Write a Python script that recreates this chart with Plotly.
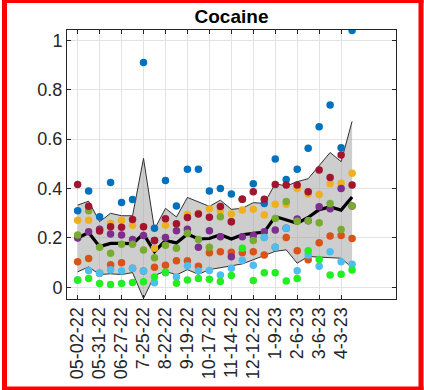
import plotly.graph_objects as go

# ---- data ----
sample_index = list(range(26))
tick_index = [0, 2, 4, 6, 8, 10, 12, 14, 16, 18, 20, 22, 24]
tick_labels = ['05-02-22', '05-31-22', '06-27-22', '7-25-22', '8-22-22', '9-19-22',
               '10-17-22', '11-14-22', '12-12-22', '1-9-23', '2-6-23', '3-6-23', '4-3-23']
y_ticks = [0, 0.2, 0.4, 0.6, 0.8, 1.0]
y_tick_labels = ['0', '0.2', '0.4', '0.6', '0.8', '1']

site_blue = [0.31, 0.39, 0.286, 0.425, 0.344, 0.356, 0.91, 0.239, 0.433, 0.329, 0.478, 0.478, 0.39,
             0.40, 0.378, 0.357, 0.42, 0.34, 0.52, 0.437, 0.478, 0.563, 0.65, 0.738, 0.565, 1.04]
site_orange = [0.104, 0.117, 0.057, 0.092, 0.10, 0.077, 0.066, 0.082, 0.09, 0.108, 0.108, 0.086, 0.14,
               0.144, 0.142, 0.14, 0.144, 0.131, 0.162, 0.202, 0.148, 0.112, 0.181, 0.208, 0.21, 0.198]
site_yellow = [0.272, 0.272, 0.235, 0.259, 0.272, 0.252, 0.245, 0.158, 0.252, 0.256, 0.295, 0.30, 0.318,
               0.31, 0.297, 0.313, 0.316, 0.293, 0.337, 0.337, 0.40, 0.378, 0.376, 0.42, 0.422, 0.462]
site_purple = [0.20, 0.225, 0.235, 0.216, 0.212, 0.194, 0.21, 0.19, 0.202, 0.229, 0.235, 0.162, 0.229,
               0.205, 0.124, 0.205, 0.21, 0.225, 0.232, 0.239, 0.277, 0.27, 0.326, 0.318, 0.40, 0.329]
site_green = [0.212, 0.31, 0.162, 0.138, 0.175, 0.175, 0.151, 0.12, 0.171, 0.158, 0.219, 0.194, 0.162,
              0.286, 0.266, 0.357, 0.19, 0.202, 0.279, 0.348, 0.268, 0.27, 0.262, 0.34, 0.234, 0.329]
site_lightblue = [0.03, 0.067, 0.057, 0.071, 0.066, 0.077, 0.066, 0.019, 0.059, 0.042, 0.088, 0.066, 0.068,
                  0.05, 0.077, 0.11, 0.09, 0.202, 0.162, 0.239, 0.067, 0.131, 0.086, 0.144, 0.104, 0.094]
site_darkred = [0.417, 0.328, 0.228, 0.245, 0.243, 0.275, 0.245, 0.19, 0.278, 0.258, 0.283, 0.297, 0.284,
                0.327, 0.266, 0.357, 0.387, 0.357, 0.417, 0.415, 0.415, 0.387, 0.475, 0.445, 0.536, 0.415]
site_brightgreen = [0.03, 0.036, 0.016, 0.012, 0.016, 0.02, 0.023, 0.042, 0.061, 0.017, 0.03, 0.036, 0.033,
                    0.024, 0.048, 0.158, 0.028, 0.059, 0.059, 0.026, 0.036, 0.148, 0.113, 0.05, 0.053, 0.07]

band_upper = [0.333, 0.349, 0.266, 0.3, 0.29, 0.29, 0.522, 0.235, 0.32, 0.285, 0.364, 0.347, 0.328,
              0.353, 0.316, 0.32, 0.343, 0.34, 0.42, 0.41, 0.428, 0.44, 0.495, 0.546, 0.509, 0.672]
band_lower = [0.063, 0.083, 0.052, 0.055, 0.052, 0.06, -0.045, 0.048, 0.066, 0.05, 0.072, 0.053, 0.072,
              0.08, 0.085, 0.095, 0.112, 0.13, 0.146, 0.152, 0.098, 0.125, 0.122, 0.122, 0.118, 0.08]
band_middle = [0.2, 0.222, 0.165, 0.178, 0.178, 0.177, 0.216, 0.145, 0.19, 0.18, 0.216, 0.196, 0.198,
               0.213, 0.196, 0.213, 0.219, 0.224, 0.287, 0.272, 0.26, 0.283, 0.315, 0.326, 0.313, 0.366]

series = [
    (site_blue, '#0072BD'),
    (site_orange, '#D95319'),
    (site_yellow, '#EDB120'),
    (site_purple, '#7E2F8E'),
    (site_green, '#77AC30'),
    (site_lightblue, '#4DBEEE'),
    (site_darkred, '#A2142F'),
    (site_brightgreen, '#22EE22'),
]

fig = go.Figure()

fig.add_trace(go.Scatter(x=sample_index, y=band_lower, mode='lines',
                         line=dict(color='#303030', width=1), showlegend=False))
fig.add_trace(go.Scatter(x=sample_index, y=band_upper, mode='lines',
                         line=dict(color='#303030', width=1), fill='tonexty',
                         fillcolor='rgba(165,165,165,0.55)', showlegend=False))
fig.add_trace(go.Scatter(x=sample_index, y=band_middle, mode='lines',
                         line=dict(color='black', width=3.2), showlegend=False))

for vals, col in series:
    fig.add_trace(go.Scatter(x=sample_index, y=vals, mode='markers',
                             marker=dict(color=col, size=7.5, line=dict(width=0)),
                             showlegend=False))

axis_col = '#262626'
font_fam = 'Liberation Sans, Arial, sans-serif'

fig.update_layout(
    width=424, height=390,
    margin=dict(l=67, r=28, t=30, b=91, autoexpand=False),
    paper_bgcolor='white', plot_bgcolor='white',
    font=dict(family=font_fam, color=axis_col, size=18),
    title=dict(text='<b>Cocaine</b>', x=0.5, xref='paper', xanchor='center',
               y=0.958, yref='container', yanchor='middle',
               font=dict(family=font_fam, size=19, color='black')),
    xaxis=dict(range=[-0.97, 29.0], tickvals=tick_index, ticktext=tick_labels,
               tickangle=-90, showgrid=True, gridcolor='#e3e3e3', gridwidth=1,
               showline=True, linecolor=axis_col, linewidth=1, mirror='ticks',
               ticks='inside', ticklen=4, tickcolor=axis_col, zeroline=False,
               automargin=False, tickfont=dict(size=18, color=axis_col)),
    yaxis=dict(range=[-0.047, 1.042], tickvals=y_ticks, ticktext=y_tick_labels,
               showgrid=True, gridcolor='#e3e3e3', gridwidth=1,
               showline=True, linecolor=axis_col, linewidth=1, mirror='ticks',
               ticks='inside', ticklen=4, tickcolor=axis_col, zeroline=False,
               automargin=False, tickfont=dict(size=18, color=axis_col)),
)

# red frame around the picture (paper coordinates computed from pixel edges)
def px_to_paper_x(px):
    return (px - 67) / 329.0

def px_to_paper_y(py):
    return (299 - py) / 269.0

frame_rects = [
    (2, 0, 7, 390),
    (418.5, 0, 423.5, 390),
    (2, 0, 423.5, 3),
    (2, 386.5, 423.5, 390),
]
for x0, y0, x1, y1 in frame_rects:
    fig.add_shape(type='rect', xref='paper', yref='paper',
                  x0=px_to_paper_x(x0), x1=px_to_paper_x(x1),
                  y0=px_to_paper_y(y1), y1=px_to_paper_y(y0),
                  fillcolor='#FF0000', line=dict(width=0), layer='above')

fig.write_html('out.html', config={'displayModeBar': False, 'staticPlot': True},
               post_script="document.body.style.margin='0';document.body.style.overflow='hidden';")
